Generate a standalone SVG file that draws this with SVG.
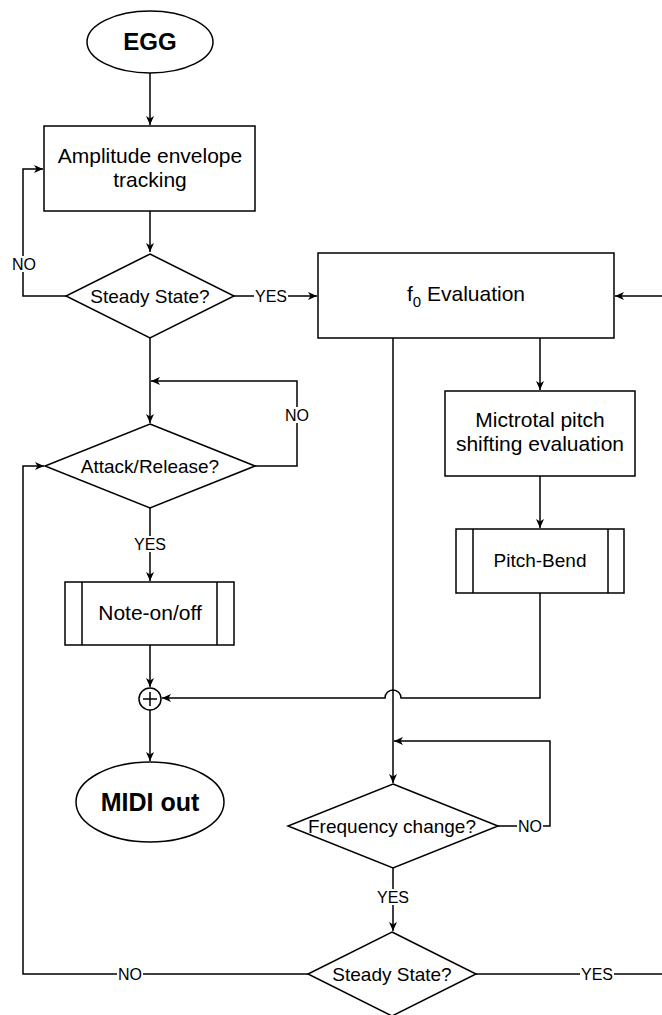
<svg xmlns="http://www.w3.org/2000/svg" width="662" height="1015" viewBox="0 0 662 1015">
<defs>
<style>
.s{fill:#fff;stroke:#000;stroke-width:1.5}
.c{fill:none;stroke:#000;stroke-width:1.5}
.t{font-family:"Liberation Sans",Arial,sans-serif;font-size:21px;text-anchor:middle;fill:#000}
.d{font-size:19px}
.b{font-weight:bold}
.l{font-family:"Liberation Sans",Arial,sans-serif;font-size:16px;text-anchor:middle;fill:#000}
.bg{fill:#fff}
</style>
<marker id="a" markerUnits="userSpaceOnUse" markerWidth="10" markerHeight="10" refX="9" refY="4" orient="auto">
<path d="M0,0 L9,4 L0,8 L2.5,4 z" fill="#000"/>
</marker>
</defs>
<rect width="662" height="1015" fill="#fff"/>
<g id="connectors">
<path class="c" d="M150,73 V125" marker-end="url(#a)"/>
<path class="c" d="M150,211 V252" marker-end="url(#a)"/>
<path class="c" d="M66,296 H23 V169 H43" marker-end="url(#a)"/>
<path class="c" d="M234,296 H317" marker-end="url(#a)"/>
<path class="c" d="M662,296 H615" marker-end="url(#a)"/>
<path class="c" d="M150,338 V423" marker-end="url(#a)"/>
<path class="c" d="M255,466 H297 V381 H151" marker-end="url(#a)"/>
<path class="c" d="M150,508 V581" marker-end="url(#a)"/>
<path class="c" d="M150,645 V687" marker-end="url(#a)"/>
<path class="c" d="M150,710 V761" marker-end="url(#a)"/>
<path class="c" d="M540,338 V390" marker-end="url(#a)"/>
<path class="c" d="M540,476 V528" marker-end="url(#a)"/>
<path class="c" d="M540,593 V698 H401 A8,8 0 0 0 385,698 H162" marker-end="url(#a)"/>
<path class="c" d="M393,338 V783" marker-end="url(#a)"/>
<path class="c" d="M498,826 H550 V741 H394" marker-end="url(#a)"/>
<path class="c" d="M393,868 V931" marker-end="url(#a)"/>
<path class="c" d="M308,974 H23 V466 H44" marker-end="url(#a)"/>
<path class="c" d="M476,974 H662"/>
<rect class="bg" x="11" y="256" width="26" height="16"/>
<text class="l" x="24" y="270">NO</text>
<rect class="bg" x="254" y="288" width="34" height="16"/>
<text class="l" x="271" y="302">YES</text>
<rect class="bg" x="284" y="407" width="26" height="16"/>
<text class="l" x="297" y="421">NO</text>
<rect class="bg" x="133" y="536" width="34" height="16"/>
<text class="l" x="150" y="550">YES</text>
<rect class="bg" x="517" y="818" width="26" height="16"/>
<text class="l" x="530" y="832">NO</text>
<rect class="bg" x="376" y="889" width="34" height="16"/>
<text class="l" x="393" y="903">YES</text>
<rect class="bg" x="117" y="966" width="26" height="16"/>
<text class="l" x="130" y="980">NO</text>
<rect class="bg" x="580" y="966" width="34" height="16"/>
<text class="l" x="597" y="980">YES</text>
</g>
<g id="egg">
<ellipse class="s" cx="150" cy="42" rx="63" ry="31"/>
<text class="t b" x="150" y="50" style="font-size:24px">EGG</text>
</g>
<g id="amplitude">
<rect class="s" x="44" y="126" width="211" height="85"/>
<text class="t" x="150" y="163">Amplitude envelope</text>
<text class="t" x="150" y="187">tracking</text>
</g>
<g id="steady1">
<path class="s" d="M150,254 L234,296 L150,338 L66,296 z"/>
<text class="t d" x="150" y="303">Steady State?</text>
</g>
<g id="f0">
<rect class="s" x="318" y="253" width="296" height="85"/>
<text class="t" x="466" y="301">f<tspan dy="6" style="font-size:15px">0</tspan><tspan dy="-6"> Evaluation</tspan></text>
</g>
<g id="attack">
<path class="s" d="M150,424 L255,466 L150,508 L45,466 z"/>
<text class="t d" x="150" y="473">Attack/Release?</text>
</g>
<g id="microtonal">
<rect class="s" x="445" y="391" width="190" height="85"/>
<text class="t" x="540" y="427">Mictrotal pitch</text>
<text class="t" x="540" y="451">shifting evaluation</text>
</g>
<g id="pitchbend">
<rect class="s" x="456" y="529" width="168" height="64"/>
<path class="c" d="M473,529 V593 M608,529 V593"/>
<text class="t d" x="540" y="567">Pitch-Bend</text>
</g>
<g id="noteonoff">
<rect class="s" x="65" y="582" width="169" height="63"/>
<path class="c" d="M82,582 V645 M217,582 V645"/>
<text class="t" x="150" y="620">Note-on/off</text>
</g>
<g id="sum">
<circle class="s" cx="150" cy="699" r="11"/>
<path class="c" d="M150,692 V706 M143,699 H157"/>
</g>
<g id="midi">
<ellipse class="s" cx="150" cy="802" rx="74" ry="40"/>
<text class="t b" x="150" y="811" style="font-size:25px">MIDI out</text>
</g>
<g id="freq">
<path class="s" d="M393,784 L498,826 L393,868 L288,826 z"/>
<text class="t d" x="392" y="833">Frequency change?</text>
</g>
<g id="steady2">
<path class="s" d="M392,932 L476,974 L392,1016 L308,974 z"/>
<text class="t d" x="392" y="981">Steady State?</text>
</g>
</svg>
